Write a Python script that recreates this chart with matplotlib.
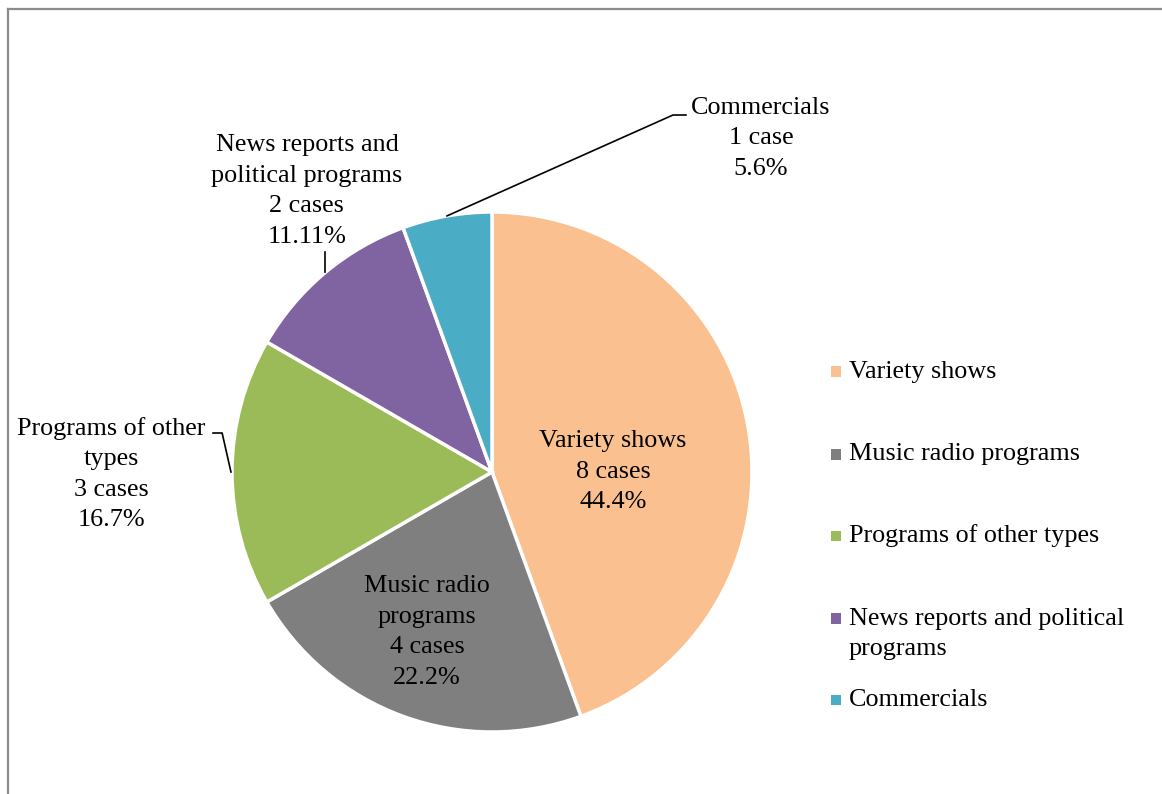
import matplotlib.pyplot as plt
from matplotlib.patches import Rectangle
from matplotlib.lines import Line2D

plt.rcParams['font.family'] = ['Liberation Serif', 'DejaVu Serif']

categories = ['Variety shows', 'Music radio programs', 'Programs of other types',
              'News reports and political programs', 'Commercials']
legend_labels = ['Variety shows', 'Music radio programs', 'Programs of other types',
                 'News reports and political\nprograms', 'Commercials']
slice_labels = ['Variety shows', 'Music radio\nprograms', 'Programs of other\ntypes',
                'News reports and\npolitical programs', 'Commercials']
cases = [8, 4, 3, 2, 1]
pct_text = ['44.4%', '22.2%', '16.7%', '11.11%', '5.6%']
colors = ['#FAC090', '#7F7F7F', '#9BBB59', '#8064A2', '#4BACC6']

fig = plt.figure(figsize=(11.62, 7.94), dpi=100)
W, H = 1162, 794
cx, cy, r = 492, 472, 260
ax = fig.add_axes([(cx - r) / W, (H - cy - r) / H, 2 * r / W, 2 * r / H])

ax.pie(cases, colors=colors, startangle=90, counterclock=False, radius=1,
       wedgeprops=dict(edgecolor='white', linewidth=2.5))
ax.set_xlim(-1, 1)
ax.set_ylim(-1, 1)
ax.set_aspect('equal')
ax.axis('off')

fs = 18.8
ls = 1.5

def case_word(n):
    return f'{n} case' if n == 1 else f'{n} cases'

# label centres (pie units)
label_pos = [(0.465, 0.0), (-0.25, -0.615), (-1.465, -0.008), (-0.712, 1.081), (1.035, 1.283)]
for i, (x, y) in enumerate(label_pos):
    txt = f'{slice_labels[i]}\n{case_word(cases[i])}\n{pct_text[i]}'
    ax.text(x, y, txt, ha='center', va='center', fontsize=fs, linespacing=ls,
            color='black', clip_on=False)

# leader lines
leaders = [
    ([-0.173, 0.696, 0.746], [0.985, 1.373, 1.373]),
    ([-0.642, -0.642], [0.769, 0.846]),
    ([-1.004, -1.038, -1.073], [0.0, 0.15, 0.15]),
]
for xs, ys in leaders:
    ax.plot(xs, ys, color='black', lw=1.2, clip_on=False)

# legend
leg_y = [0.385, 0.069, -0.246, -0.623, -0.877]
box_y = [0.385, 0.069, -0.246, -0.565, -0.877]
for i in range(len(categories)):
    s = 0.021
    ax.add_patch(Rectangle((1.323 - s, box_y[i] - s), 2 * s, 2 * s,
                           facecolor=colors[i], edgecolor='none', clip_on=False))
    ax.text(1.373, leg_y[i], legend_labels[i], ha='left', va='center',
            fontsize=fs, linespacing=ls, clip_on=False)

# chart frame
fig.add_artist(Line2D([7.5 / W, 7.5 / W], [0, 1 - 8.5 / H], transform=fig.transFigure,
                      color='#8C8C8C', lw=1.6))
fig.add_artist(Line2D([7.5 / W, 1], [1 - 8.5 / H, 1 - 8.5 / H], transform=fig.transFigure,
                      color='#8C8C8C', lw=1.6))

fig.savefig('out.png', dpi=100, facecolor='white')
